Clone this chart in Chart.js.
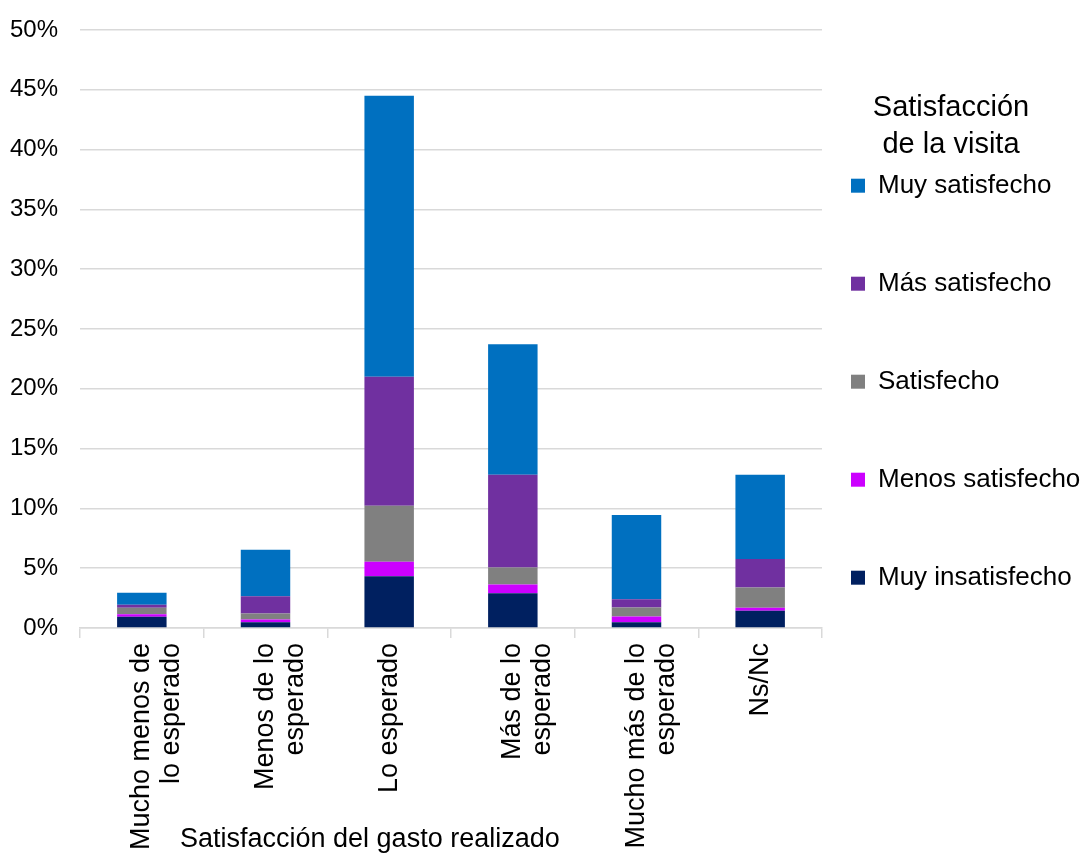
<!DOCTYPE html>
<html lang="es">

<head>
  <meta charset="UTF-8" />
  <title>Satisfacción del gasto realizado</title>
  <script src="https://cdn.jsdelivr.net/npm/chart.js"></script>
  <style>
    html,
    body {
      margin: 0;
      padding: 0;
      background: #fff;
    }

    #chartBox {
      width: 1080px;
      height: 855px;
    }
  </style>
</head>

<body>
  <div id="chartBox"><canvas id="myChart01"></canvas></div>

  <script>
    // categorías del eje X (satisfacción del gasto)
    const categorias = [
      ["Mucho menos de", "lo esperado"],
      ["Menos de lo", "esperado"],
      "Lo esperado",
      ["Más de lo", "esperado"],
      ["Mucho más de lo", "esperado"],
      "Ns/Nc",
    ];

    // porcentajes por nivel de satisfacción de la visita
    const muyInsatisfecho = [0.93, 0.48, 4.32, 2.9, 0.48, 1.43];
    const menosSatisfecho = [0.22, 0.22, 1.22, 0.72, 0.47, 0.25];
    const satisfecho = [0.53, 0.5, 4.67, 1.44, 0.75, 1.69];
    const masSatisfecho = [0.25, 1.44, 10.8, 7.75, 0.7, 2.39];
    const muySatisfecho = [1.0, 3.9, 23.5, 10.9, 7.03, 7.05];

    // marcas del eje Y
    const yTicks = [0, 5, 10, 15, 20, 25, 30, 35, 40, 45, 50];

    Chart.defaults.font.family = '"Liberation Sans", Arial, sans-serif';
    Chart.defaults.color = "#000";

    // título del eje X, dibujado a mano para dejarlo a la izquierda
    const tituloEjeX = {
      id: "tituloEjeX",
      afterDraw(chart) {
        const ctx = chart.ctx;
        ctx.save();
        ctx.font = '27px "Liberation Sans", Arial, sans-serif';
        ctx.fillStyle = "#000";
        ctx.textAlign = "left";
        ctx.textBaseline = "alphabetic";
        ctx.fillText("Satisfacción del gasto realizado", chart.chartArea.left + 100, chart.height - 8);
        ctx.restore();
      },
    };

    // sin margen extra por las etiquetas giradas
    function sinPadding(scale) {
      scale.paddingLeft = 0;
      scale.paddingRight = 0;
      scale.paddingTop = 0;
      scale.paddingBottom = 0;
    }

    const ctx01 = document.getElementById("myChart01");
    const mychart01 = new Chart(ctx01, {
      type: "bar",
      data: {
        labels: categorias,
        datasets: [
          { label: "Muy insatisfecho", data: muyInsatisfecho, backgroundColor: "#002060" },
          { label: "Menos satisfecho", data: menosSatisfecho, backgroundColor: "#CC00FF" },
          { label: "Satisfecho", data: satisfecho, backgroundColor: "#808080" },
          { label: "Más satisfecho", data: masSatisfecho, backgroundColor: "#7030A0" },
          { label: "Muy satisfecho", data: muySatisfecho, backgroundColor: "#0070C0" },
        ],
      },
      options: {
        responsive: true,
        maintainAspectRatio: false,
        animation: false,
        datasets: {
          bar: {
            categoryPercentage: 1,
            barPercentage: 0.4,
          },
        },
        layout: {
          padding: { left: 10, top: 30, right: 0, bottom: 0 },
        },
        scales: {
          x: {
            stacked: true,
            afterFit: sinPadding,
            grid: {
              display: true,
              drawOnChartArea: false,
              drawTicks: true,
              tickLength: 10,
              color: "#d9d9d9",
              lineWidth: 1.5,
            },
            border: { display: true, color: "#d9d9d9", width: 1.5 },
            ticks: {
              autoSkip: false,
              minRotation: 90,
              maxRotation: 90,
              padding: 5,
              font: { size: 27, lineHeight: 1.1 },
            },
          },
          y: {
            stacked: true,
            min: 0,
            max: 50,
            afterFit: (scale) => {
              sinPadding(scale);
              scale.width = 70;
            },
            afterBuildTicks: (axis) => {
              axis.ticks = yTicks.map((v) => ({ value: v }));
            },
            grid: {
              color: "#d9d9d9",
              lineWidth: 1.5,
              drawTicks: false,
            },
            border: { display: false },
            ticks: {
              padding: 22,
              font: { size: 24 },
              callback: (v) => v + "%",
            },
          },
        },
        plugins: {
          tooltip: { enabled: false },
          legend: {
            position: "right",
            align: "start",
            reverse: true,
            maxWidth: 258,
            title: {
              display: true,
              text: ["Satisfacción", "de la visita"],
              font: { size: 29, lineHeight: 1.3 },
              padding: { top: 63, bottom: 13 },
            },
            labels: {
              boxWidth: 14,
              boxHeight: 14,
              padding: 29,
              font: { size: 26, lineHeight: "69px" },
              // texto en array para que cada fila use el lineHeight
              generateLabels: (chart) =>
                Chart.defaults.plugins.legend.labels
                  .generateLabels(chart)
                  .map((item) => Object.assign(item, { text: [item.text] })),
            },
          },
        },
      },
      plugins: [tituloEjeX],
    });
  </script>
</body>

</html>
